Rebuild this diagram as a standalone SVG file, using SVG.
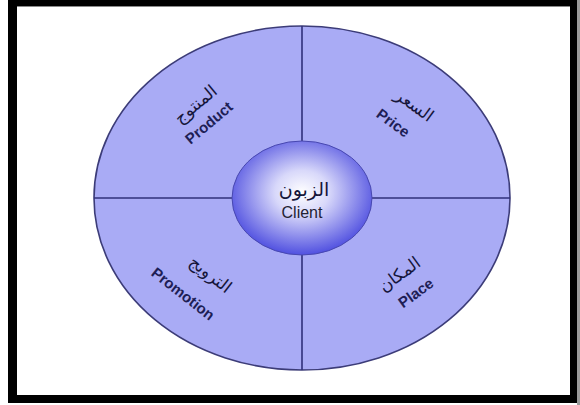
<svg xmlns="http://www.w3.org/2000/svg" width="580" height="405" viewBox="0 0 580 405">
<style>
.sector{fill:#a9abf5;stroke:none}
.rim{fill:none;stroke:#3c3c78;stroke-width:1.6}
.div{stroke:#30307a;stroke-width:1.6;fill:none}
.en{font-family:"Liberation Sans",Arial,sans-serif;font-size:15px;font-weight:bold;fill:#1e1e55;text-anchor:middle}
.ar{font-family:"DejaVu Sans","Noto Sans",sans-serif;font-size:17px;font-weight:normal;fill:#15153a;text-anchor:middle;direction:rtl}
</style>
<defs>
<radialGradient id="hub" cx="0.5" cy="0.45" r="0.55">
<stop offset="0" stop-color="#ffffff"/>
<stop offset="0.35" stop-color="#d8d8fa"/>
<stop offset="1" stop-color="#5050e0"/>
</radialGradient>
</defs>
<rect x="0" y="0" width="580" height="405" fill="#ffffff"/>
<g id="frame">
<rect x="8" y="0" width="569" height="6" fill="#000"/>
<rect x="8" y="0" width="9" height="402" fill="#000"/>
<rect x="8" y="395" width="569" height="8" fill="#000"/>
<rect x="570" y="0" width="7" height="403" fill="#000"/>
<rect x="577" y="0" width="3" height="405" fill="#9a9a9a"/>
<rect x="17" y="6" width="553" height="1" fill="#8a8a8a"/>
</g>
<g id="product">
<path class="sector" d="M302,198 L94,198 A208,172 0 0 1 302,26 Z"/>
<text class="ar" transform="translate(196,105) rotate(-40)" x="0" y="5">المنتوج</text>
<text class="en" transform="translate(209,123) rotate(-40)" x="0" y="5">Product</text>
</g>
<g id="price">
<path class="sector" d="M302,198 L302,26 A208,172 0 0 1 510,198 Z"/>
<text class="ar" transform="translate(414,106) rotate(36)" x="0" y="5">السعر</text>
<text class="en" transform="translate(393,123) rotate(36)" x="0" y="5">Price</text>
</g>
<g id="place">
<path class="sector" d="M302,198 L510,198 A208,172 0 0 1 302,370 Z"/>
<text class="ar" transform="translate(400,275) rotate(-36)" x="0" y="5">المكان</text>
<text class="en" transform="translate(416,293) rotate(-36)" x="0" y="5">Place</text>
</g>
<g id="promotion">
<path class="sector" d="M302,198 L302,370 A208,172 0 0 1 94,198 Z"/>
<text class="ar" transform="translate(210,275) rotate(38)" x="0" y="5">الترويج</text>
<text class="en" transform="translate(183,294) rotate(38)" x="0" y="5">Promotion</text>
</g>
<g id="connectors">
<ellipse class="rim" cx="302" cy="198" rx="208" ry="172"/>
<line class="div" x1="94" y1="198" x2="232" y2="198"/>
<line class="div" x1="372" y1="198" x2="510" y2="198"/>
<line class="div" x1="302" y1="26" x2="302" y2="141"/>
<line class="div" x1="302" y1="255" x2="302" y2="370"/>
</g>
<g id="client">
<ellipse cx="302" cy="198" rx="70" ry="57" fill="url(#hub)" stroke="#4848b0" stroke-width="1"/>
<text class="ar" x="304" y="196" style="font-size:19px">الزبون</text>
<text class="en" x="302" y="218" style="font-weight:normal;font-size:16px;fill:#222233">Client</text>
</g>
</svg>
